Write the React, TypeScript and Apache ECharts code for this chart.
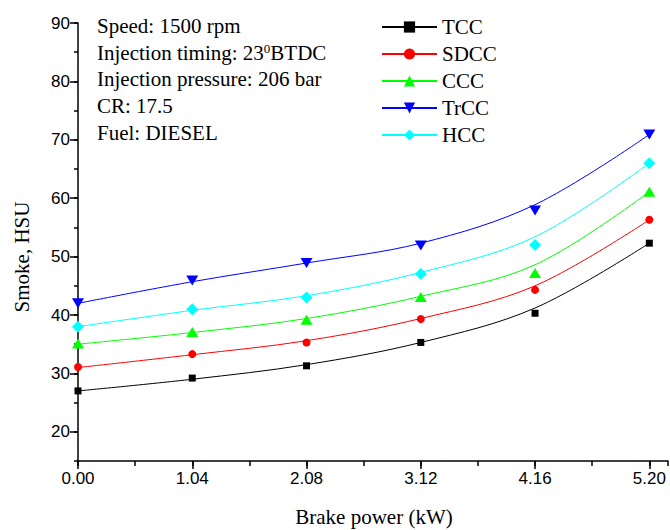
import React, { useEffect, useRef } from "react";
import * as echarts from "echarts";

const xValues = [0, 1.04, 2.08, 3.12, 4.16, 5.2];
const xTickLabels = [0, 1.04, 2.08, 3.12, 4.16, 5.2];
const yTickLabels = [20, 30, 40, 50, 60, 70, 80, 90];

const seriesNames = ["TCC", "SDCC", "CCC", "TrCC", "HCC"];
const tccPoints = [27.0, 29.2, 31.3, 35.3, 40.3, 52.3];
const sdccPoints = [31.1, 33.3, 35.3, 39.3, 44.3, 56.3];
const cccPoints = [35.1, 37.1, 39.2, 43.1, 47.2, 61.1];
const trccPoints = [42.0, 45.9, 48.9, 51.9, 57.9, 70.9];
const hccPoints = [38.0, 41.0, 43.0, 47.0, 52.0, 66.0];

const tccFit = [27.0, 29.0, 31.5, 35.3, 41.2, 52.3];
const sdccFit = [31.0, 33.2, 35.6, 39.4, 45.0, 56.3];
const cccFit = [35.0, 37.0, 39.4, 43.2, 48.6, 61.1];
const trccFit = [42.0, 45.7, 48.9, 52.3, 58.9, 70.9];
const hccFit = [38.0, 40.8, 43.3, 47.3, 53.4, 66.0];

const annotations = [
  "Speed: 1500 rpm",
  "{n|Injection timing: 23}{s|0}{n|BTDC}",
  "Injection pressure: 206 bar",
  "CR: 17.5",
  "Fuel: DIESEL",
];

const SERIF = "'Liberation Serif', 'Times New Roman', serif";
const SANS = "'Liberation Sans', Arial, sans-serif";

export default function App() {
  const ref = useRef<HTMLDivElement>(null);
  useEffect(() => {
    if (!ref.current) return;
    const chart = echarts.init(ref.current, null, { renderer: "svg" });
    const groups = [
      { name: seriesNames[0], color: "#000000", symbol: "rect", size: 7, rotate: 0, pts: tccPoints, fit: tccFit },
      { name: seriesNames[1], color: "#ff0000", symbol: "circle", size: 8, rotate: 0, pts: sdccPoints, fit: sdccFit },
      { name: seriesNames[2], color: "#00ff00", symbol: "triangle", size: [12, 10], rotate: 0, pts: cccPoints, fit: cccFit },
      { name: seriesNames[3], color: "#0000ff", symbol: "triangle", size: [12, 10], rotate: 180, pts: trccPoints, fit: trccFit },
      { name: seriesNames[4], color: "#00ffff", symbol: "diamond", size: 12, rotate: 0, pts: hccPoints, fit: hccFit },
    ];
    const series: any[] = [];
    groups.forEach((g) => {
      series.push({
        type: "line",
        name: g.name,
        data: xValues.map((x, i) => [x, g.fit[i]]),
        smooth: 0.35,
        showSymbol: false,
        symbol: g.symbol,
        symbolRotate: g.rotate,
        lineStyle: { color: g.color, width: 1 },
        itemStyle: { color: g.color },
        z: 2,
      });
    });
    groups.forEach((g) => {
      series.push({
        type: "scatter",
        name: g.name + " data",
        data: xValues.map((x, i) => [x, g.pts[i]]),
        symbol: g.symbol,
        symbolSize: g.size,
        symbolRotate: g.rotate,
        itemStyle: { color: g.color, opacity: 1 },
        z: 3,
      });
    });

    const axisLine = { show: true, lineStyle: { color: "#000", width: 1.5 } };
    chart.setOption({
      animation: false,
      backgroundColor: "#ffffff",
      textStyle: { fontFamily: SANS },
      grid: { left: 78, right: 2, top: 23, bottom: 69, containLabel: false },
      xAxis: [
        {
          type: "value",
          min: 0,
          max: 5.37,
          interval: 0.52,
          axisLine,
          axisTick: { show: true, length: 5, lineStyle: { color: "#000", width: 1.5 } },
          axisLabel: { show: false },
          splitLine: { show: false },
        },
        {
          type: "value",
          min: 0,
          max: 5.37,
          position: "bottom",
          axisLine: { show: false },
          axisTick: { show: true, length: 8, customValues: xTickLabels, lineStyle: { color: "#000", width: 1.5 } },
          axisLabel: {
            show: true,
            customValues: xTickLabels,
            formatter: (v: number) => v.toFixed(2),
            color: "#000",
            fontSize: 17,
            fontFamily: SANS,
            margin: 9,
          },
          splitLine: { show: false },
        },
      ],
      yAxis: [
        {
          type: "value",
          min: 15,
          max: 90,
          interval: 5,
          axisLine,
          axisTick: { show: true, length: 4, lineStyle: { color: "#000", width: 1.5 } },
          axisLabel: { show: false },
          splitLine: { show: false },
        },
        {
          type: "value",
          min: 15,
          max: 90,
          position: "left",
          axisLine: { show: false },
          axisTick: { show: true, length: 8, customValues: yTickLabels, lineStyle: { color: "#000", width: 1.5 } },
          axisLabel: {
            show: true,
            customValues: yTickLabels,
            color: "#000",
            fontSize: 17,
            fontFamily: SANS,
            margin: 8,
          },
          splitLine: { show: false },
        },
      ],
      legend: {
        data: seriesNames,
        orient: "vertical",
        left: 381,
        top: 16,
        padding: 0,
        itemWidth: 55,
        itemHeight: 14,
        itemGap: 5,
        textStyle: { fontFamily: SERIF, fontSize: 21, color: "#000", lineHeight: 22 },
      },
      graphic: [
        ...annotations.map((t, i) => ({
          type: "text",
          left: 97,
          top: 15 + i * 26.8,
          style: {
            text: t,
            fontFamily: SERIF,
            fontSize: 21,
            fill: "#000",
            rich: {
              n: { fontFamily: SERIF, fontSize: 21, fill: "#000", lineHeight: 23 },
              s: { fontFamily: SERIF, fontSize: 13, fill: "#000", verticalAlign: "top", lineHeight: 23 },
            },
          },
        })),
        {
          type: "text",
          x: 374,
          y: 517,
          style: {
            text: "Brake power (kW)",
            fontFamily: SERIF,
            fontSize: 21,
            fill: "#000",
            align: "center",
            verticalAlign: "middle",
          },
        },
        {
          type: "text",
          x: 22,
          y: 257,
          rotation: Math.PI / 2,
          style: {
            text: "Smoke, HSU",
            fontFamily: SERIF,
            fontSize: 21,
            fill: "#000",
            align: "center",
            verticalAlign: "middle",
          },
        },
      ],
      series: series.map((s) => ({ ...s, xAxisIndex: 0, yAxisIndex: 0 })),
    });
    return () => chart.dispose();
  }, []);
  return (
    <div
      ref={ref}
      style={{ position: "fixed", left: 0, top: 0, width: 670, height: 530 }}
    />
  );
}
